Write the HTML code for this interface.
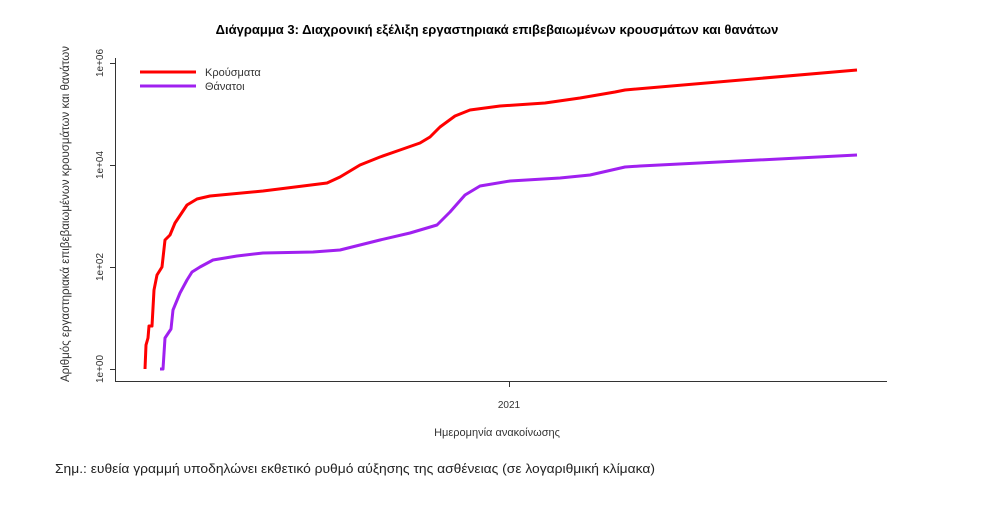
<!DOCTYPE html>
<html><head><meta charset="utf-8"><style>
html,body{margin:0;padding:0;background:#fff;width:993px;height:527px;overflow:hidden}
svg text{font-family:"Liberation Sans",sans-serif}
</style></head><body>
<svg width="993" height="527" viewBox="0 0 993 527" xmlns="http://www.w3.org/2000/svg">
<text x="497" y="34" font-size="13" font-weight="bold" text-anchor="middle" fill="#000">Διάγραμμα 3: Διαχρονική εξέλιξη εργαστηριακά επιβεβαιωμένων κρουσμάτων και θανάτων</text>
<g stroke="#333" stroke-width="1" fill="none">
<line x1="115.5" y1="58" x2="115.5" y2="381"/>
<line x1="110" y1="63.5" x2="115" y2="63.5"/>
<line x1="110" y1="165.5" x2="115" y2="165.5"/>
<line x1="110" y1="267.5" x2="115" y2="267.5"/>
<line x1="110" y1="369.5" x2="115" y2="369.5"/>
<line x1="115" y1="381.5" x2="887" y2="381.5"/>
<line x1="509.5" y1="381" x2="509.5" y2="387"/>
</g>
<g font-size="10" fill="#333" text-anchor="middle">
<text transform="translate(103,63) rotate(-90)">1e+06</text>
<text transform="translate(103,165) rotate(-90)">1e+04</text>
<text transform="translate(103,267) rotate(-90)">1e+02</text>
<text transform="translate(103,369) rotate(-90)">1e+00</text>
<text x="509" y="408">2021</text>
</g>
<text transform="translate(69,214) rotate(-90)" font-size="11.5" text-anchor="middle" fill="#333">Αριθμός εργαστηριακά επιβεβαιωμένων κρουσμάτων και θανάτων</text>
<text x="497" y="436" font-size="11" text-anchor="middle" fill="#333">Ημερομηνία ανακοίνωσης</text>
<text x="55" y="473" font-size="13" fill="#222" textLength="600" lengthAdjust="spacingAndGlyphs">Σημ.: ευθεία γραμμή υποδηλώνει εκθετικό ρυθμό αύξησης της ασθένειας (σε λογαριθμική κλίμακα)</text>
<polyline fill="none" stroke="#ff0000" stroke-width="3" stroke-linejoin="round" points="145,369 146,345 148,338 149,326 152,326 154,290 157,275 162,267 165,240 170,235 175,223 187,205 197,199 210,196 263,191 303,186 327,183 340,177 360,165 380,157 400,150 420,143 430,137 440,127 455,116 470,110 500,106 545,103 580,98 615,92 625,90 857,70"/>
<polyline fill="none" stroke="#a020f0" stroke-width="3" stroke-linejoin="round" points="160,369 163,369 165,338 171,329 173,310 180,293 187,280 192,272 200,267 213,260 237,256 263,253 313,252 340,250 380,240 410,233 437,225 450,212 465,195 480,186 510,181 560,178 590,175 625,167 640,166 857,155"/>
<line x1="140" y1="72" x2="196" y2="72" stroke="#ff0000" stroke-width="3"/>
<line x1="140" y1="86" x2="196" y2="86" stroke="#a020f0" stroke-width="3"/>
<text x="205" y="76" font-size="11" fill="#333">Κρούσματα</text>
<text x="205" y="90" font-size="11" fill="#333">Θάνατοι</text>
</svg>
</body></html>
